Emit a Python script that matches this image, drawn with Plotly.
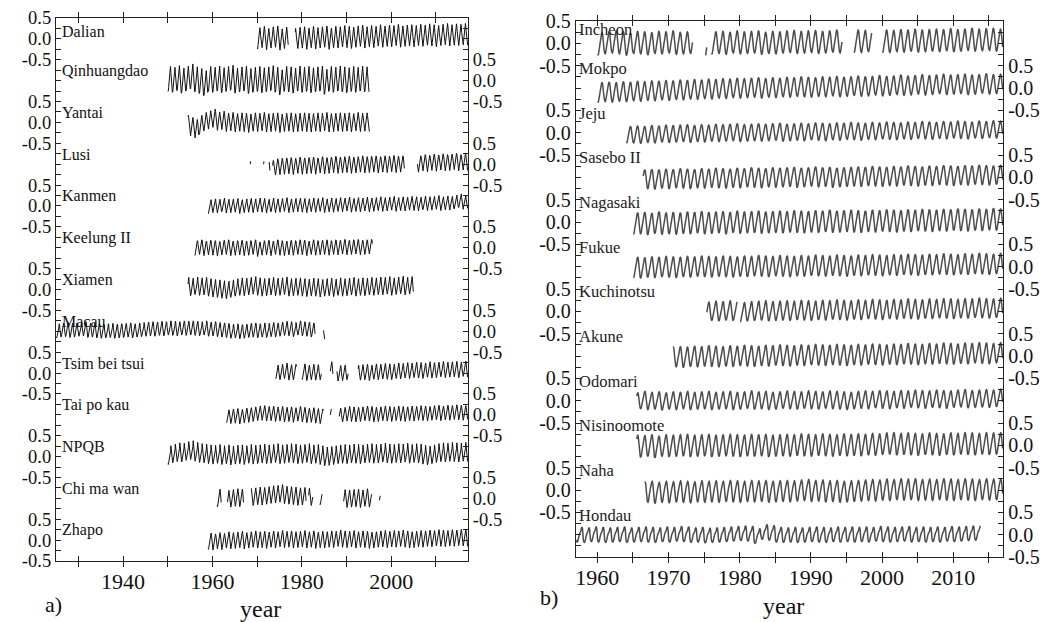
import plotly.graph_objects as go

# ---------------- Panel a) : China coast stations ----------------
left_names = ["Dalian", "Qinhuangdao", "Yantai", "Lusi", "Kanmen", "Keelung II", "Xiamen",
              "Macau", "Tsim bei tsui", "Tai po kau", "NPQB", "Chi ma wan", "Zhapo"]

dalian_start = 1970
dalian_spans = [[1970.0, 1977.0], [1978.5, 2017.2]]
dalian_clim = [-0.22, -0.24, -0.16, -0.08, 0.00, 0.08, 0.18, 0.27, 0.20, 0.08, -0.04, -0.15]
dalian_annual = [0.00, 0.03, -0.02, 0.02, 0.04, -0.03, 0.01, 0.00, -0.02, 0.01,
                 0.02, -0.01, 0.03, 0.00, 0.02, 0.04, -0.01, 0.03, 0.02, 0.05,
                 0.03, 0.01, 0.04, 0.06, 0.02, 0.05, 0.03, 0.07, 0.04, 0.06,
                 0.05, 0.08, 0.04, 0.06, 0.07, 0.05, 0.08, 0.06, 0.09, 0.07,
                 0.05, 0.08, 0.10, 0.07, 0.09, 0.08, 0.10, 0.09]

qinhuangdao_start = 1950
qinhuangdao_spans = [[1950.0, 1995.2]]
qinhuangdao_clim = [-0.28, -0.27, -0.18, -0.06, 0.04, 0.14, 0.26, 0.32, 0.18, 0.04, -0.08, -0.20]
qinhuangdao_annual = [0.02, 0.00, 0.04, -0.02, 0.03, 0.08, 0.01, -0.03, -0.08, 0.02,
                      0.00, 0.03, -0.01, 0.02, 0.05, -0.02, 0.01, 0.03, -0.03, 0.00,
                      0.02, -0.01, 0.01, 0.04, 0.00, -0.06, 0.02, 0.01, -0.02, 0.03,
                      0.00, 0.02, -0.01, 0.01, 0.03, -0.05, 0.02, 0.00, 0.03, 0.01,
                      -0.01, 0.02, 0.00, 0.03, 0.01, 0.02]

yantai_start = 1954
yantai_spans = [[1954.5, 1995.2]]
yantai_clim = [-0.22, -0.22, -0.14, -0.05, 0.03, 0.10, 0.19, 0.22, 0.16, 0.05, -0.06, -0.15]
yantai_annual = [-0.05, -0.10, -0.15, -0.05, 0.02, 0.06,
                 0.10, 0.03, 0.05, 0.00, 0.02, -0.01, 0.01, 0.00, -0.02, 0.01,
                 0.00, 0.02, -0.01, 0.00, 0.01, -0.02, 0.00, 0.01, -0.01, 0.00,
                 0.01, 0.00, -0.01, 0.01, 0.00, 0.02, -0.01, 0.00, 0.01, 0.00,
                 0.01, -0.01, 0.02, 0.00, 0.01, 0.00]

lusi_start = 1968
lusi_spans = [[1968.4, 1968.6], [1971.4, 1971.6], [1972.7, 1972.9], [1973.4, 2003.0], [2005.8, 2017.2]]
lusi_clim = [-0.20, -0.22, -0.15, -0.07, -0.02, 0.05, 0.12, 0.17, 0.15, 0.06, -0.05, -0.13]
lusi_annual = [-0.05, -0.05, -0.05, -0.05, -0.10, -0.08, -0.04, -0.03, -0.02, -0.01,
               -0.03, 0.00, -0.02, -0.01, 0.00, -0.02, 0.01, -0.01, 0.00, 0.02,
               0.00, 0.01, 0.02, 0.00, 0.01, 0.03, 0.01, 0.02, 0.03, 0.01,
               0.03, 0.02, 0.04, 0.02, 0.03, 0.03, 0.03, 0.05, 0.03, 0.06,
               0.04, 0.07, 0.05, 0.08, 0.06, 0.07, 0.09, 0.06, 0.08, 0.07]

kanmen_start = 1959
kanmen_spans = [[1959.0, 2017.2]]
kanmen_clim = [-0.15, -0.16, -0.10, -0.05, -0.01, 0.04, 0.10, 0.16, 0.17, 0.08, -0.03, -0.11]
kanmen_annual = [-0.02, 0.00, -0.01, 0.02, -0.01, 0.00, 0.01, -0.02, 0.00, 0.01,
                 0.00, 0.02, 0.01, -0.01, 0.02, 0.00, 0.01, 0.03, 0.00, 0.01,
                 0.02, 0.01, 0.00, 0.02, 0.01, 0.03, 0.00, 0.02, 0.01, 0.03,
                 0.02, 0.04, 0.01, 0.03, 0.02, 0.04, 0.02, 0.03, 0.05, 0.03,
                 0.04, 0.06, 0.03, 0.05, 0.04, 0.06, 0.05, 0.04, 0.07, 0.05,
                 0.06, 0.08, 0.05, 0.07, 0.06, 0.09, 0.12, 0.08, 0.10]

keelung_start = 1956
keelung_spans = [[1956.0, 1995.8]]
keelung_clim = [-0.18, -0.18, -0.12, -0.06, 0.00, 0.06, 0.12, 0.17, 0.16, 0.07, -0.03, -0.12]
keelung_annual = [0.00, 0.02, -0.01, 0.01, 0.00, -0.02, 0.01, 0.02, -0.01, 0.00,
                  0.01, -0.01, 0.00, 0.02, -0.03, 0.00, 0.01, -0.01, 0.02, 0.00,
                  -0.01, 0.01, 0.00, 0.02, 0.01, -0.01, 0.02, 0.00, 0.01, 0.02,
                  0.00, 0.02, 0.01, 0.03, 0.01, 0.02, 0.03, 0.01, 0.02, 0.03]

xiamen_start = 1954
xiamen_spans = [[1954.5, 2005.0]]
xiamen_clim = [-0.14, -0.16, -0.12, -0.06, -0.02, 0.04, 0.10, 0.18, 0.26, 0.14, 0.00, -0.10]
xiamen_annual = [0.03, 0.01, 0.04, 0.02, 0.03, 0.00, -0.02, -0.03, -0.05, -0.06,
                 -0.03, 0.00, 0.02, 0.01, 0.03, 0.05, 0.02, 0.00, 0.01, 0.03,
                 0.01, 0.02, 0.04, 0.00, 0.01, 0.02, 0.00, -0.01, 0.01, 0.00,
                 -0.02, 0.00, 0.01, -0.01, 0.02, 0.00, 0.01, 0.03, 0.00, 0.02,
                 0.01, 0.03, 0.02, 0.04, 0.03, 0.05, 0.02, 0.04, 0.06, 0.03, 0.05]

macau_start = 1925
macau_spans = [[1925.0, 1983.0], [1984.8, 1985.2]]
macau_clim = [-0.12, -0.14, -0.12, -0.08, -0.04, 0.02, 0.06, 0.10, 0.20, 0.18, 0.06, -0.06]
macau_annual = [-0.02, 0.00, 0.01, -0.01, 0.00, 0.02, 0.03, -0.01, 0.00, -0.02,
                -0.03, -0.02, -0.01, -0.03, -0.02, -0.01, 0.00, -0.02, 0.00, 0.01,
                0.02, 0.03, 0.02, 0.04, 0.03, 0.05, 0.04, 0.03, 0.05, 0.04,
                0.05, 0.04, 0.03, 0.05, 0.02, 0.03, 0.01, 0.00, -0.01, -0.03,
                -0.02, -0.04, -0.03, -0.01, 0.00, -0.02, 0.00, -0.01, 0.01, 0.00,
                0.02, 0.04, 0.03, 0.01, 0.05, 0.03, 0.02, 0.00, -0.02, -0.04, -0.05]

tsim_start = 1974
tsim_spans = [[1974.2, 1978.8], [1980.0, 1984.4], [1986.3, 1987.0], [1987.8, 1990.4], [1992.6, 2017.2]]
tsim_clim = [-0.14, -0.16, -0.12, -0.07, -0.02, 0.04, 0.08, 0.12, 0.21, 0.16, 0.04, -0.08]
tsim_annual = [-0.02, 0.00, 0.03, -0.01, 0.00, -0.03, 0.01, -0.02, 0.00, -0.01,
               0.00, 0.00, 0.06, 0.00, -0.03, -0.02, 0.00, 0.00, -0.02, -0.01,
               0.00, -0.02, 0.01, 0.00, 0.02, 0.01, 0.00, 0.03, 0.02, 0.04,
               0.03, 0.05, 0.04, 0.03, 0.06, 0.04, 0.05, 0.07, 0.05, 0.06,
               0.07, 0.05, 0.08, 0.06]

taipokau_start = 1963
taipokau_spans = [[1963.2, 1984.8], [1986.3, 1986.7], [1988.3, 2017.2]]
taipokau_clim = [-0.15, -0.17, -0.13, -0.07, -0.02, 0.03, 0.07, 0.12, 0.18, 0.14, 0.03, -0.08]
taipokau_annual = [-0.06, -0.04, -0.03, -0.05, -0.02, -0.01, 0.01, 0.03, 0.04, 0.02,
                   0.03, 0.01, 0.02, 0.00, 0.01, -0.01, 0.02, 0.00, -0.02, -0.01,
                   -0.03, -0.04, 0.00, 0.02, 0.00, -0.02, 0.00, 0.02, 0.01, 0.00,
                   0.01, 0.03, 0.02, 0.00, 0.01, 0.03, 0.02, 0.01, 0.03, 0.02,
                   0.01, 0.03, 0.02, 0.04, 0.03, 0.02, 0.04, 0.05, 0.03, 0.05,
                   0.04, 0.06, 0.05, 0.04, 0.06]

npqb_start = 1950
npqb_spans = [[1950.0, 2017.2]]
npqb_clim = [-0.15, -0.17, -0.13, -0.08, -0.03, 0.03, 0.08, 0.14, 0.28, 0.20, 0.06, -0.06]
npqb_annual = [-0.02, 0.02, 0.05, 0.04, 0.08, 0.10, 0.06, 0.03, 0.02, 0.00,
               -0.01, 0.01, -0.02, 0.00, -0.03, -0.01, 0.00, -0.02, 0.01, -0.01,
               0.00, 0.02, 0.00, 0.01, 0.03, 0.00, 0.01, 0.03, 0.02, 0.00,
               0.01, 0.03, 0.00, 0.01, -0.02, -0.05, -0.04, -0.02, 0.00, 0.01,
               0.00, 0.02, 0.01, 0.00, 0.02, 0.03, 0.01, 0.02, 0.04, 0.02,
               0.01, 0.03, 0.02, 0.04, 0.01, 0.03, 0.02, -0.01, -0.03, 0.00,
               0.03, 0.05, 0.04, 0.06, 0.05, 0.04, 0.06, 0.05]

chimawan_start = 1961
chimawan_spans = [[1961.0, 1962.0], [1963.3, 1967.0], [1968.7, 1981.0], [1981.5, 1982.5],
                  [1984.0, 1984.6], [1989.3, 1995.7], [1997.3, 1997.6]]
chimawan_clim = [-0.15, -0.17, -0.13, -0.08, -0.03, 0.03, 0.08, 0.14, 0.25, 0.18, 0.05, -0.07]
chimawan_annual = [-0.03, -0.02, -0.06, -0.04, -0.02, -0.03, 0.00, -0.01, 0.00, 0.02,
                   0.01, 0.03, 0.05, 0.06, 0.08, 0.04, 0.03, 0.02, 0.00, 0.01,
                   -0.01, 0.00, 0.00, 0.02, 0.00, 0.00, 0.00, 0.00, -0.04, -0.05,
                   -0.04, -0.03, -0.05, -0.02, -0.04, 0.00, -0.02]

zhapo_start = 1959
zhapo_spans = [[1959.0, 2017.2]]
zhapo_clim = [-0.17, -0.19, -0.14, -0.07, -0.02, 0.04, 0.09, 0.14, 0.20, 0.15, 0.03, -0.08]
zhapo_annual = [-0.03, -0.05, -0.02, -0.04, 0.00, -0.02, -0.01, 0.01, -0.02, 0.00,
                0.02, 0.00, 0.01, -0.01, 0.02, 0.00, 0.03, 0.01, 0.02, 0.00,
                0.01, 0.03, 0.00, 0.02, -0.01, 0.01, 0.00, 0.02, 0.01, 0.04,
                0.02, 0.01, 0.03, 0.00, 0.02, 0.01, -0.01, 0.00, 0.02, 0.03,
                0.01, 0.03, 0.02, 0.04, 0.02, 0.00, 0.01, 0.03, 0.02, 0.04,
                0.03, 0.05, 0.04, 0.03, 0.05, 0.04, 0.06, 0.05, 0.04]

# ---------------- Panel b) : Korea / Japan / Vietnam stations ----------------
right_names = ["Incheon", "Mokpo", "Jeju", "Sasebo II", "Nagasaki", "Fukue", "Kuchinotsu",
               "Akune", "Odomari", "Nisinoomote", "Naha", "Hondau"]

incheon_start = 1960
incheon_spans = [[1960.0, 1973.4], [1975.2, 1975.4], [1976.0, 1994.4], [1996.0, 1998.6], [2000.0, 2017.0]]
incheon_clim = [-0.22, -0.24, -0.17, -0.08, 0.01, 0.09, 0.18, 0.26, 0.24, 0.13, 0.00, -0.14]
incheon_annual = [-0.02, 0.00, 0.02, 0.00, -0.03, 0.01, 0.00, -0.02, 0.01, 0.00,
                  0.02, -0.01, 0.00, 0.01, 0.00, -0.10, 0.00, 0.01, -0.01, 0.02,
                  0.00, 0.01, 0.02, -0.01, 0.01, 0.00, 0.02, 0.03, 0.01, 0.02,
                  0.03, 0.01, 0.02, 0.04, 0.02, 0.03, 0.04, 0.03, 0.05, 0.03,
                  0.04, 0.03, 0.05, 0.04, 0.06, 0.04, 0.05, 0.06, 0.05, 0.07,
                  0.05, 0.06, 0.08, 0.06, 0.07, 0.08, 0.06, 0.08]

mokpo_start = 1960
mokpo_spans = [[1960.0, 2017.0]]
mokpo_clim = [-0.20, -0.22, -0.16, -0.08, 0.00, 0.08, 0.16, 0.22, 0.21, 0.11, -0.01, -0.12]
mokpo_annual = [-0.10, -0.09, -0.10, -0.08, -0.09, -0.07, -0.08, -0.06, -0.07, -0.05,
                -0.06, -0.04, -0.05, -0.03, -0.04, -0.02, -0.03, -0.01, -0.02, 0.00,
                -0.01, 0.00, 0.01, -0.01, 0.01, 0.00, 0.02, 0.01, 0.03, 0.02,
                0.01, 0.03, 0.02, 0.04, 0.02, 0.03, 0.05, 0.03, 0.04, 0.06,
                0.04, 0.05, 0.07, 0.05, 0.06, 0.08, 0.06, 0.07, 0.09, 0.07,
                0.08, 0.09, 0.07, 0.08, 0.10, 0.08, 0.09, 0.10]

jeju_start = 1964
jeju_spans = [[1964.1, 2017.0]]
jeju_clim = [-0.18, -0.19, -0.14, -0.07, 0.00, 0.07, 0.14, 0.19, 0.18, 0.10, -0.01, -0.10]
jeju_annual = [-0.05, -0.04, -0.05, -0.03, -0.04, -0.02, -0.03, -0.02, -0.01, -0.03,
               -0.01, -0.02, 0.00, -0.01, 0.00, 0.01, -0.01, 0.00, 0.01, 0.00,
               0.01, 0.02, 0.00, 0.01, 0.02, 0.01, 0.03, 0.02, 0.01, 0.03,
               0.02, 0.04, 0.03, 0.02, 0.04, 0.03, 0.05, 0.04, 0.03, 0.05,
               0.04, 0.06, 0.05, 0.04, 0.06, 0.05, 0.07, 0.06, 0.05, 0.07,
               0.06, 0.08, 0.07, 0.08]

sasebo_start = 1966
sasebo_spans = [[1966.4, 2017.0]]
sasebo_clim = [-0.22, -0.22, -0.15, -0.07, 0.00, 0.07, 0.15, 0.20, 0.20, 0.12, 0.00, -0.12]
sasebo_annual = [-0.04, -0.03, -0.04, -0.02, -0.03, -0.01, -0.02, -0.03, -0.01, -0.02,
                 0.00, -0.01, -0.02, 0.00, -0.01, 0.01, 0.00, -0.01, 0.01, 0.00,
                 0.01, 0.02, 0.00, 0.01, 0.03, 0.01, 0.02, 0.00, 0.01, 0.02,
                 0.03, 0.02, 0.04, 0.03, 0.02, 0.04, 0.03, 0.05, 0.04, 0.03,
                 0.05, 0.04, 0.06, 0.05, 0.04, 0.06, 0.05, 0.07, 0.06, 0.05,
                 0.07, 0.06]

nagasaki_start = 1965
nagasaki_spans = [[1965.0, 2017.0]]
nagasaki_clim = [-0.24, -0.24, -0.17, -0.08, 0.00, 0.08, 0.16, 0.23, 0.23, 0.13, 0.00, -0.13]
nagasaki_annual = [-0.03, -0.02, -0.04, -0.01, -0.03, -0.02, -0.03, -0.01, -0.02, 0.00,
                   -0.02, -0.01, 0.00, -0.02, 0.01, -0.01, 0.00, 0.01, -0.01, 0.00,
                   0.01, 0.00, 0.02, 0.01, 0.00, 0.02, 0.01, 0.03, 0.01, 0.02,
                   0.03, 0.02, 0.01, 0.03, 0.02, 0.04, 0.03, 0.02, 0.04, 0.03,
                   0.05, 0.04, 0.03, 0.05, 0.04, 0.06, 0.05, 0.04, 0.06, 0.05,
                   0.07, 0.06, 0.07]

fukue_start = 1965
fukue_spans = [[1965.0, 2017.0]]
fukue_clim = [-0.22, -0.22, -0.16, -0.08, 0.00, 0.07, 0.15, 0.22, 0.23, 0.13, 0.00, -0.12]
fukue_annual = [-0.02, -0.03, -0.01, -0.02, 0.00, -0.01, -0.02, 0.00, -0.01, 0.01,
                0.00, -0.01, 0.01, 0.00, -0.01, 0.01, 0.00, 0.02, 0.01, 0.00,
                0.02, 0.01, 0.00, 0.02, 0.01, 0.03, 0.02, 0.01, 0.03, 0.02,
                0.01, 0.03, 0.02, 0.04, 0.03, 0.02, 0.04, 0.03, 0.05, 0.04,
                0.03, 0.05, 0.04, 0.06, 0.05, 0.04, 0.06, 0.05, 0.07, 0.06,
                0.05, 0.07, 0.06]

kuchinotsu_start = 1975
kuchinotsu_spans = [[1975.3, 1979.7], [1980.0, 2017.0]]
kuchinotsu_clim = [-0.20, -0.20, -0.14, -0.07, 0.00, 0.06, 0.14, 0.21, 0.23, 0.13, 0.00, -0.11]
kuchinotsu_annual = [-0.02, 0.00, -0.01, 0.01, 0.00, -0.03, -0.01, 0.00, 0.01, -0.01,
                     0.00, 0.01, 0.00, 0.02, 0.01, 0.00, 0.02, 0.01, 0.03, 0.02,
                     0.01, 0.03, 0.02, 0.04, 0.03, 0.02, 0.04, 0.03, 0.05, 0.04,
                     0.03, 0.05, 0.04, 0.06, 0.05, 0.04, 0.06, 0.05, 0.07, 0.06,
                     0.05, 0.07, 0.06]

akune_start = 1970
akune_spans = [[1970.6, 2017.0]]
akune_clim = [-0.22, -0.22, -0.15, -0.07, 0.00, 0.07, 0.15, 0.22, 0.23, 0.13, 0.00, -0.12]
akune_annual = [-0.03, -0.02, -0.03, -0.01, -0.02, 0.00, -0.01, -0.02, 0.00, -0.01,
                0.01, 0.00, -0.01, 0.01, 0.00, 0.02, 0.01, 0.00, 0.02, 0.01,
                0.03, 0.02, 0.01, 0.03, 0.02, 0.01, 0.03, 0.02, 0.04, 0.03,
                0.02, 0.04, 0.03, 0.05, 0.04, 0.03, 0.05, 0.04, 0.06, 0.05,
                0.04, 0.06, 0.05, 0.07, 0.06, 0.05, 0.07, 0.06]

odomari_start = 1965
odomari_spans = [[1965.5, 2017.0]]
odomari_clim = [-0.18, -0.19, -0.14, -0.07, -0.01, 0.05, 0.12, 0.18, 0.20, 0.13, 0.01, -0.09]
odomari_annual = [-0.02, 0.01, -0.01, 0.00, -0.02, 0.00, -0.01, 0.01, -0.01, 0.00,
                  0.01, -0.01, 0.00, 0.01, -0.01, 0.00, 0.02, 0.00, 0.01, -0.01,
                  0.00, 0.02, 0.01, 0.00, 0.02, 0.01, 0.00, 0.02, 0.01, 0.00,
                  -0.01, 0.01, 0.02, 0.01, 0.03, 0.02, 0.01, 0.03, 0.02, 0.04,
                  0.03, 0.02, 0.04, 0.03, 0.02, 0.04, 0.05, 0.03, 0.04, 0.05,
                  0.04, 0.06, 0.05]

nisinoomote_start = 1965
nisinoomote_spans = [[1965.5, 2017.0]]
nisinoomote_clim = [-0.24, -0.24, -0.18, -0.09, -0.01, 0.07, 0.15, 0.22, 0.24, 0.14, 0.00, -0.12]
nisinoomote_annual = [-0.01, -0.02, 0.00, -0.03, 0.00, -0.01, 0.00, 0.01, -0.01, 0.00,
                      0.01, -0.01, 0.00, 0.01, 0.00, -0.01, 0.01, 0.00, 0.01, -0.01,
                      0.00, 0.01, 0.00, 0.02, 0.01, 0.00, 0.02, 0.01, 0.00, 0.02,
                      0.01, 0.02, 0.01, 0.03, 0.02, 0.04, 0.05, 0.03, 0.04, 0.03,
                      0.02, 0.04, 0.03, 0.02, 0.04, 0.03, 0.05, 0.04, 0.03, 0.05,
                      0.04, 0.05, 0.04]

naha_start = 1966
naha_spans = [[1966.7, 2017.0]]
naha_clim = [-0.24, -0.26, -0.20, -0.10, -0.02, 0.06, 0.12, 0.18, 0.22, 0.16, 0.02, -0.12]
naha_annual = [-0.03, -0.02, -0.04, -0.02, -0.03, -0.01, -0.02, -0.03, -0.01, -0.02,
               -0.01, -0.02, 0.00, -0.01, -0.02, 0.00, -0.01, 0.00, -0.02, -0.01,
               0.00, -0.01, 0.01, 0.02, 0.00, 0.01, -0.01, 0.00, -0.02, -0.01,
               0.00, 0.01, 0.02, 0.01, 0.03, 0.02, 0.04, 0.03, 0.04, 0.02,
               0.03, 0.02, 0.04, 0.03, 0.02, 0.04, 0.03, 0.02, 0.04, 0.03,
               0.04, 0.03]

hondau_start = 1957
hondau_spans = [[1957.0, 2013.8]]
hondau_clim = [-0.12, -0.16, -0.16, -0.12, -0.06, 0.00, 0.04, 0.06, 0.10, 0.16, 0.16, 0.04]
hondau_annual = [0.00, -0.01, 0.01, 0.00, -0.01, 0.00, 0.01, -0.01, 0.00, 0.01,
                 0.00, -0.01, 0.01, 0.00, 0.02, 0.01, -0.01, 0.00, -0.02, -0.01,
                 0.00, 0.01, 0.02, 0.03, 0.02, -0.03, 0.06, 0.04, 0.00, -0.01,
                 0.00, -0.01, 0.00, 0.01, 0.00, -0.01, 0.01, 0.00, 0.01, 0.00,
                 0.01, 0.00, 0.02, 0.01, 0.00, 0.01, 0.02, 0.00, 0.01, 0.00,
                 0.01, 0.00, 0.02, 0.01, 0.02, 0.03, 0.04]

left_data = [
    (dalian_start, dalian_spans, dalian_clim, dalian_annual),
    (qinhuangdao_start, qinhuangdao_spans, qinhuangdao_clim, qinhuangdao_annual),
    (yantai_start, yantai_spans, yantai_clim, yantai_annual),
    (lusi_start, lusi_spans, lusi_clim, lusi_annual),
    (kanmen_start, kanmen_spans, kanmen_clim, kanmen_annual),
    (keelung_start, keelung_spans, keelung_clim, keelung_annual),
    (xiamen_start, xiamen_spans, xiamen_clim, xiamen_annual),
    (macau_start, macau_spans, macau_clim, macau_annual),
    (tsim_start, tsim_spans, tsim_clim, tsim_annual),
    (taipokau_start, taipokau_spans, taipokau_clim, taipokau_annual),
    (npqb_start, npqb_spans, npqb_clim, npqb_annual),
    (chimawan_start, chimawan_spans, chimawan_clim, chimawan_annual),
    (zhapo_start, zhapo_spans, zhapo_clim, zhapo_annual),
]
right_data = [
    (incheon_start, incheon_spans, incheon_clim, incheon_annual),
    (mokpo_start, mokpo_spans, mokpo_clim, mokpo_annual),
    (jeju_start, jeju_spans, jeju_clim, jeju_annual),
    (sasebo_start, sasebo_spans, sasebo_clim, sasebo_annual),
    (nagasaki_start, nagasaki_spans, nagasaki_clim, nagasaki_annual),
    (fukue_start, fukue_spans, fukue_clim, fukue_annual),
    (kuchinotsu_start, kuchinotsu_spans, kuchinotsu_clim, kuchinotsu_annual),
    (akune_start, akune_spans, akune_clim, akune_annual),
    (odomari_start, odomari_spans, odomari_clim, odomari_annual),
    (nisinoomote_start, nisinoomote_spans, nisinoomote_clim, nisinoomote_annual),
    (naha_start, naha_spans, naha_clim, naha_annual),
    (hondau_start, hondau_spans, hondau_clim, hondau_annual),
]

left_xticks = [1930, 1940, 1950, 1960, 1970, 1980, 1990, 2000, 2010]
left_xlabels = ["", "1940", "", "1960", "", "1980", "", "2000", ""]
right_xticks = [1960, 1965, 1970, 1975, 1980, 1985, 1990, 1995, 2000, 2005, 2010, 2015]
right_xlabels = ["1960", "", "1970", "", "1980", "", "1990", "", "2000", "", "2010", ""]
offset_labels = ["0.5", "0.0", "-0.5"]

FONT = "Liberation Serif, Times New Roman, serif"
W, H = 1062, 622


def fx(px):
    return px / W


def fy(py):
    return (H - py) / H


def build(start, spans, clim, annual, offset):
    xs, ys = [], []
    prev_in = False
    for k, a in enumerate(annual):
        yr = start + k
        for m in range(12):
            t = yr + (m + 0.5) / 12.0
            inside = any(s0 <= t <= s1 for s0, s1 in spans)
            if inside:
                xs.append(t)
                ys.append(offset + a + clim[m])
            elif prev_in:
                xs.append(None)
                ys.append(None)
            prev_in = inside
    return xs, ys


def tick_sets(n):
    vals = [0.5 - 0.25 * j for j in range(4 * n + 1)]
    left_txt = {}
    right_txt = {}
    for i in range(n):
        target = left_txt if i % 2 == 0 else right_txt
        for d, lab in zip([0.5, 0.0, -0.5], offset_labels):
            target[round(-i + d, 2)] = lab
    lt = [left_txt.get(round(v, 2), "") for v in vals]
    rt = [right_txt.get(round(v, 2), "") for v in vals]
    return vals, lt, rt


fig = go.Figure()
annotations = []

# Left panel traces
for i, (name, d) in enumerate(zip(left_names, left_data)):
    xs, ys = build(*d, offset=-i)
    fig.add_trace(go.Scatter(x=xs, y=ys, mode="lines", xaxis="x",
                             yaxis="y" if i % 2 == 0 else "y2",
                             line=dict(color="#111111", width=1.0),
                             showlegend=False, hoverinfo="skip"))
    annotations.append(dict(x=1926.0, y=-i + (0.17 if i == 0 else 0.24), xref="x", yref="y",
                            text=name, showarrow=False, xanchor="left", yanchor="middle",
                            font=dict(family=FONT, size=16, color="#111111")))

# Right panel traces
for i, (name, d) in enumerate(zip(right_names, right_data)):
    xs, ys = build(*d, offset=-i)
    fig.add_trace(go.Scatter(x=xs, y=ys, mode="lines", xaxis="x2",
                             yaxis="y3" if i % 2 == 0 else "y4",
                             line=dict(color="#4d4d4d", width=1.5, shape="spline", smoothing=0.8),
                             showlegend=False, hoverinfo="skip"))
    annotations.append(dict(x=1957.2, y=-i + (0.3 if i == 0 else 0.44), xref="x2", yref="y3",
                            text=name, showarrow=False, xanchor="left", yanchor="middle",
                            font=dict(family=FONT, size=16.5, color="#222222")))

lv, llt, lrt = tick_sets(len(left_names))
rv, rlt, rrt = tick_sets(len(right_names))

axis_common = dict(showline=True, linecolor="#222222", linewidth=1.3, ticks="inside",
                   ticklen=5, tickcolor="#222222", tickwidth=1, showgrid=False, zeroline=False,
                   automargin=False)
left_yfont = dict(family=FONT, size=18.5, color="#111111")
right_yfont = dict(family=FONT, size=20, color="#111111")
xfont = dict(family=FONT, size=22, color="#111111")

LDOM_X = [fx(56), fx(468)]
LDOM_Y = [fy(561), fy(18)]
RDOM_X = [fx(576), fx(1003)]
RDOM_Y = [fy(557), fy(21)]

fig.update_layout(
    template="none",
    width=W, height=H, autosize=False,
    margin=dict(l=0, r=0, t=0, b=0, pad=0),
    paper_bgcolor="white", plot_bgcolor="white",
    showlegend=False,
    xaxis=dict(domain=LDOM_X, anchor="y", range=[1925, 2017.2], tickmode="array",
               tickvals=left_xticks, ticktext=left_xlabels, mirror="allticks",
               tickfont=xfont, **axis_common),
    yaxis=dict(domain=LDOM_Y, anchor="x", range=[-12.5, 0.5], tickmode="array",
               tickvals=lv, ticktext=llt, mirror=True, tickfont=left_yfont, **axis_common),
    yaxis2=dict(domain=LDOM_Y, anchor="x", overlaying="y", side="right", range=[-12.5, 0.5],
                tickmode="array", tickvals=lv, ticktext=lrt, tickfont=left_yfont, **axis_common),
    xaxis2=dict(domain=RDOM_X, anchor="y3", range=[1957, 2017], tickmode="array",
                tickvals=right_xticks, ticktext=right_xlabels, mirror="allticks",
                tickfont=xfont, **axis_common),
    yaxis3=dict(domain=RDOM_Y, anchor="x2", range=[-11.5, 0.5], tickmode="array",
                tickvals=rv, ticktext=rlt, mirror=True, tickfont=right_yfont, **axis_common),
    yaxis4=dict(domain=RDOM_Y, anchor="x2", overlaying="y3", side="right", range=[-11.5, 0.5],
                tickmode="array", tickvals=rv, ticktext=rrt, tickfont=right_yfont, **axis_common),
)

annotations += [
    dict(x=fx(260), y=fy(609), xref="paper", yref="paper", text="year", showarrow=False,
         xanchor="center", yanchor="middle", font=dict(family=FONT, size=24, color="#111111")),
    dict(x=fx(783), y=fy(606), xref="paper", yref="paper", text="year", showarrow=False,
         xanchor="center", yanchor="middle", font=dict(family=FONT, size=24, color="#111111")),
    dict(x=fx(43), y=fy(604), xref="paper", yref="paper", text="a)", showarrow=False,
         xanchor="left", yanchor="middle", font=dict(family=FONT, size=22, color="#111111")),
    dict(x=fx(538), y=fy(597), xref="paper", yref="paper", text="b)", showarrow=False,
         xanchor="left", yanchor="middle", font=dict(family=FONT, size=22, color="#111111")),
]
fig.update_layout(annotations=annotations)

# Remove the browser's default 8px body margin so the figure fills the window exactly.
fig.write_html("out.html", config={"displayModeBar": False},
               post_script="document.body.style.margin='0px';")
